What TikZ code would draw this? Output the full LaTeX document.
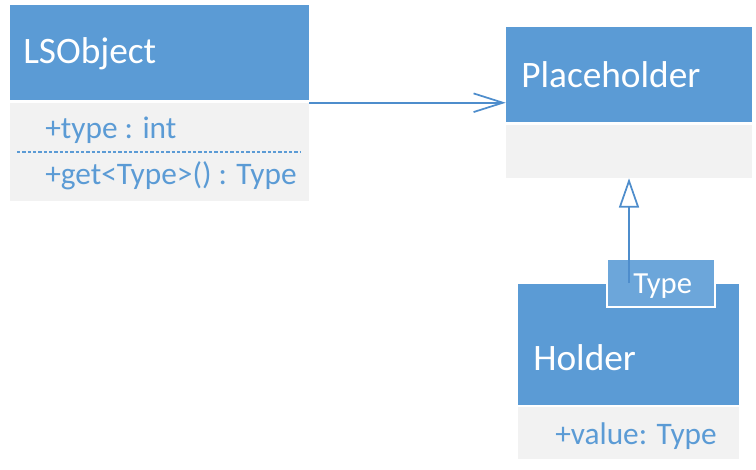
\documentclass[tikz,border=0pt]{standalone}
\usepackage{fontspec}
\setmainfont{Carlito}
\usetikzlibrary{arrows.meta}
\definecolor{umlblue}{HTML}{5B9BD5}
\definecolor{umlgray}{HTML}{F2F2F2}
\definecolor{umltpl}{HTML}{6CA6DA}
\definecolor{umlline}{HTML}{4E8DCC}
\begin{document}
\begin{tikzpicture}[x=0.75pt, y=-0.75pt,
    head/.style={fill=umlblue, inner sep=0pt},
    body/.style={fill=umlgray, inner sep=0pt},
    tpl/.style={fill=umltpl, draw=white, line width=1.2pt, inner sep=0pt},
    title/.style={anchor=base west, inner sep=0pt, text=white, font=\fontsize{28}{33}\selectfont},
    member/.style={anchor=base west, inner sep=0pt, text=umlblue, font=\fontsize{23.5}{28}\selectfont},
    tplname/.style={anchor=base west, inner sep=0pt, text=white, font=\fontsize{23}{27}\selectfont},
    assoc/.style={umlline, line width=1.5pt, -{Straight Barb[length=22pt, width=14pt, line width=1.3pt]}},
    inherit/.style={umlline, line width=1.5pt, -{Triangle[open, fill=white, length=22pt, width=15pt, line width=1.3pt]}},
    sep/.style={umlblue, line width=1pt, dash pattern=on 2.5pt off 1.5pt}]
      \useasboundingbox (0,0) rectangle (756,470);
      \node (lsohead)[head, minimum width=224.25pt, minimum height=71.25pt] at (159.5,52.5) {};
      \node (lsobody)[body, minimum width=224.25pt, minimum height=73.5pt] at (159.5,152) {};
      \node (phhead)[head, minimum width=184.5pt, minimum height=71.25pt] at (629,74.5) {};
      \node (phbody)[body, minimum width=184.5pt, minimum height=39.75pt] at (629,151.5) {};
      \node (hdhead)[head, minimum width=165.75pt, minimum height=90.75pt] at (628.5,344.5) {};
      \node (hdbody)[body, minimum width=165.75pt, minimum height=39pt] at (628.5,433) {};
      \node (hdtpl)[tpl, minimum width=81pt, minimum height=36pt] at (661,283) {};
      \node (lsoname)[title] at (23,64) {LSObject};
      \node (lsotype)[member] at (45,139) {+type : int};
      \node (lsoget)[member] at (45,185) {+get<Type>() : Type};
      \node (phname)[title] at (521,88) {Placeholder};
      \node (hdname)[title] at (533,370) {Holder};
      \node (hdtplname)[tplname] at (633,293) {Type};
      \node (hdvalue)[member] at (555,444) {+value: Type};
      \coordinate (sepl) at (17,152);
      \coordinate (sepr) at (301,152);
      \draw[sep] (sepl) -- (sepr);
      \draw[assoc] (lsobody.north east) -- (phhead.west |- lsobody.north);
      \draw[inherit] (phbody.south |- hdtpl.center) -- (phbody.south);
\end{tikzpicture}
\end{document}
